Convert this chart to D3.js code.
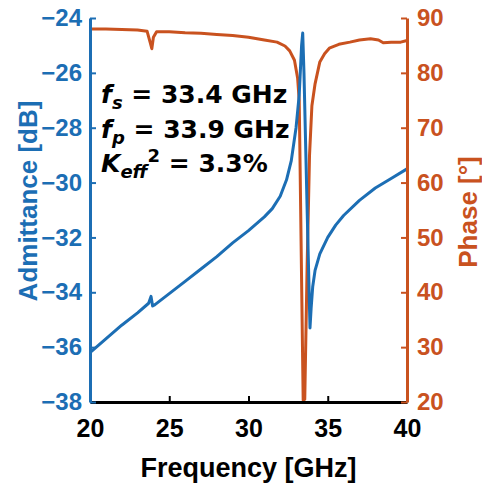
<!DOCTYPE html>
<html>
<head>
<meta charset="utf-8">
<script src="https://cdn.jsdelivr.net/npm/d3@7"></script>
<style>
  html, body { margin: 0; padding: 0; background: #fff; }
  svg text { font-family: "Liberation Sans", Arial, sans-serif; font-weight: bold; }
  svg text.note { font-family: "DejaVu Sans", sans-serif; }
</style>
</head>
<body>
<div id="chart"></div>
<script>
// admittance trace [GHz, dB]
const admFreq = [20, 21, 22, 23, 23.7, 23.85, 23.95, 24.1, 25, 26, 27, 28, 29, 30, 31, 31.5, 32, 32.4, 32.7, 33.0, 33.2, 33.35, 33.42, 33.5, 33.7, 33.88, 33.95, 34.05, 34.2, 34.5, 35, 35.5, 36, 37, 38, 39, 40];
const admValues = [-36.2, -35.7, -35.2, -34.75, -34.4, -34.15, -34.5, -34.45, -34.05, -33.6, -33.15, -32.7, -32.2, -31.75, -31.25, -30.95, -30.5, -29.9, -29.2, -28.0, -26.8, -25.0, -24.55, -26, -31, -35.3, -34.6, -33.8, -33.2, -32.6, -32.0, -31.55, -31.2, -30.65, -30.2, -29.85, -29.5];

// phase trace [GHz, deg]
const phFreq = [20, 21, 22, 23, 23.6, 23.8, 23.9, 24.0, 24.2, 25, 26, 27, 28, 29, 30, 31, 31.8, 32.3, 32.6, 32.9, 33.1, 33.2, 33.45, 33.55, 33.7, 33.85, 34.0, 34.2, 34.5, 34.8, 35.1, 35.7, 36.4, 37.0, 37.7, 38.2, 38.5, 39.0, 39.6, 40];
const phValues = [88.0, 88.0, 87.9, 87.8, 87.6, 85.5, 84.4, 86.5, 87.5, 87.5, 87.3, 87.2, 87.0, 86.8, 86.5, 86.0, 85.6, 84.9, 84.0, 82.3, 79, 75, 20.3, 20.5, 45, 65, 74, 78, 82, 83.5, 84.5, 85.2, 85.6, 86.0, 86.2, 86.0, 85.5, 85.6, 85.6, 85.9];

const xTicks = [20, 25, 30, 35, 40];
const yLeftTicks = [-38, -36, -34, -32, -30, -28, -26, -24];
const yRightTicks = [20, 30, 40, 50, 60, 70, 80, 90];

const blue = "#1c6eb4";
const orange = "#c9521f";

const width = 482, height = 486;
const margin = { top: 18, right: 75, bottom: 84, left: 90 };

const svg = d3.select("#chart")
    .append("svg")
    .attr("width", width)
    .attr("height", height);

let x = d3.scaleLinear()
    .domain([20, 40])
    .range([margin.left, width - margin.right]);

let yL = d3.scaleLinear()
    .domain([-38, -24])
    .range([height - margin.bottom, margin.top]);

let yR = d3.scaleLinear()
    .domain([20, 90])
    .range([height - margin.bottom, margin.top]);

const admData = admFreq.map((f, i) => [f, admValues[i]]);
const phData = phFreq.map((f, i) => [f, phValues[i]]);

// traces
svg.append("path")
    .datum(phData)
    .attr("fill", "none")
    .attr("stroke", orange)
    .attr("stroke-width", 3)
    .attr("stroke-linejoin", "round")
    .attr("d", d3.line().x(d => x(d[0])).y(d => yR(d[1])));

svg.append("path")
    .datum(admData)
    .attr("fill", "none")
    .attr("stroke", blue)
    .attr("stroke-width", 3)
    .attr("stroke-linejoin", "round")
    .attr("d", d3.line().x(d => x(d[0])).y(d => yL(d[1])));

// axes
const xAxis = svg.append("g")
    .attr("transform", "translate(0," + (height - margin.bottom) + ")")
    .call(d3.axisBottom(x).tickValues(xTicks).tickSizeInner(-6).tickSizeOuter(0).tickPadding(17));
xAxis.select(".domain").attr("stroke", "#000").attr("stroke-width", 3);
xAxis.selectAll(".tick line").attr("stroke", "#000").attr("stroke-width", 2);
xAxis.selectAll(".tick text").attr("font-size", 25).attr("fill", "#000").attr("font-family", null);

const leftAxis = svg.append("g")
    .attr("transform", "translate(" + margin.left + ",0)")
    .call(d3.axisLeft(yL).tickValues(yLeftTicks).tickSizeInner(-6).tickSizeOuter(0).tickPadding(8));
leftAxis.select(".domain").attr("stroke", blue).attr("stroke-width", 3);
leftAxis.selectAll(".tick line").attr("stroke", blue).attr("stroke-width", 2);
leftAxis.selectAll(".tick text").attr("font-size", 24).attr("fill", blue).attr("font-family", null);

const rightAxis = svg.append("g")
    .attr("transform", "translate(" + (width - margin.right) + ",0)")
    .call(d3.axisRight(yR).tickValues(yRightTicks).tickSizeInner(-6).tickSizeOuter(0).tickPadding(10));
rightAxis.select(".domain").attr("stroke", orange).attr("stroke-width", 3);
rightAxis.selectAll(".tick line").attr("stroke", orange).attr("stroke-width", 2);
rightAxis.selectAll(".tick text").attr("font-size", 24).attr("fill", orange).attr("font-family", null);

// axis titles
svg.append("text")
    .attr("x", (margin.left + width - margin.right) / 2)
    .attr("y", 477)
    .attr("text-anchor", "middle")
    .attr("font-size", 27)
    .text("Frequency [GHz]");

svg.append("text")
    .attr("transform", "translate(37,201) rotate(-90)")
    .attr("text-anchor", "middle")
    .attr("font-size", 26)
    .attr("fill", blue)
    .text("Admittance [dB]");

svg.append("text")
    .attr("transform", "translate(477,212) rotate(-90)")
    .attr("text-anchor", "middle")
    .attr("font-size", 26)
    .attr("fill", orange)
    .text("Phase [°]");

// annotation
const note = svg.append("g").attr("font-size", 25);

const line1 = note.append("text").attr("class", "note").attr("x", 101).attr("y", 103);
line1.append("tspan").attr("font-style", "italic").text("f");
line1.append("tspan").attr("font-style", "italic").attr("font-size", 18).attr("dy", 6).text("s");
line1.append("tspan").attr("dy", -6).text(" = 33.4 GHz");

const line2 = note.append("text").attr("class", "note").attr("x", 101).attr("y", 138);
line2.append("tspan").attr("font-style", "italic").text("f");
line2.append("tspan").attr("font-style", "italic").attr("font-size", 18).attr("dy", 6).text("p");
line2.append("tspan").attr("dy", -6).text(" = 33.9 GHz");

const line3 = note.append("text").attr("class", "note").attr("x", 101).attr("y", 172);
line3.append("tspan").attr("font-style", "italic").text("K");
line3.append("tspan").attr("font-style", "italic").attr("font-size", 18).attr("dy", 6).text("eff");
line3.append("tspan").attr("font-size", 18).attr("dy", -16).text("2");
line3.append("tspan").attr("dy", 10).text(" = 3.3%");
</script>
</body>
</html>
